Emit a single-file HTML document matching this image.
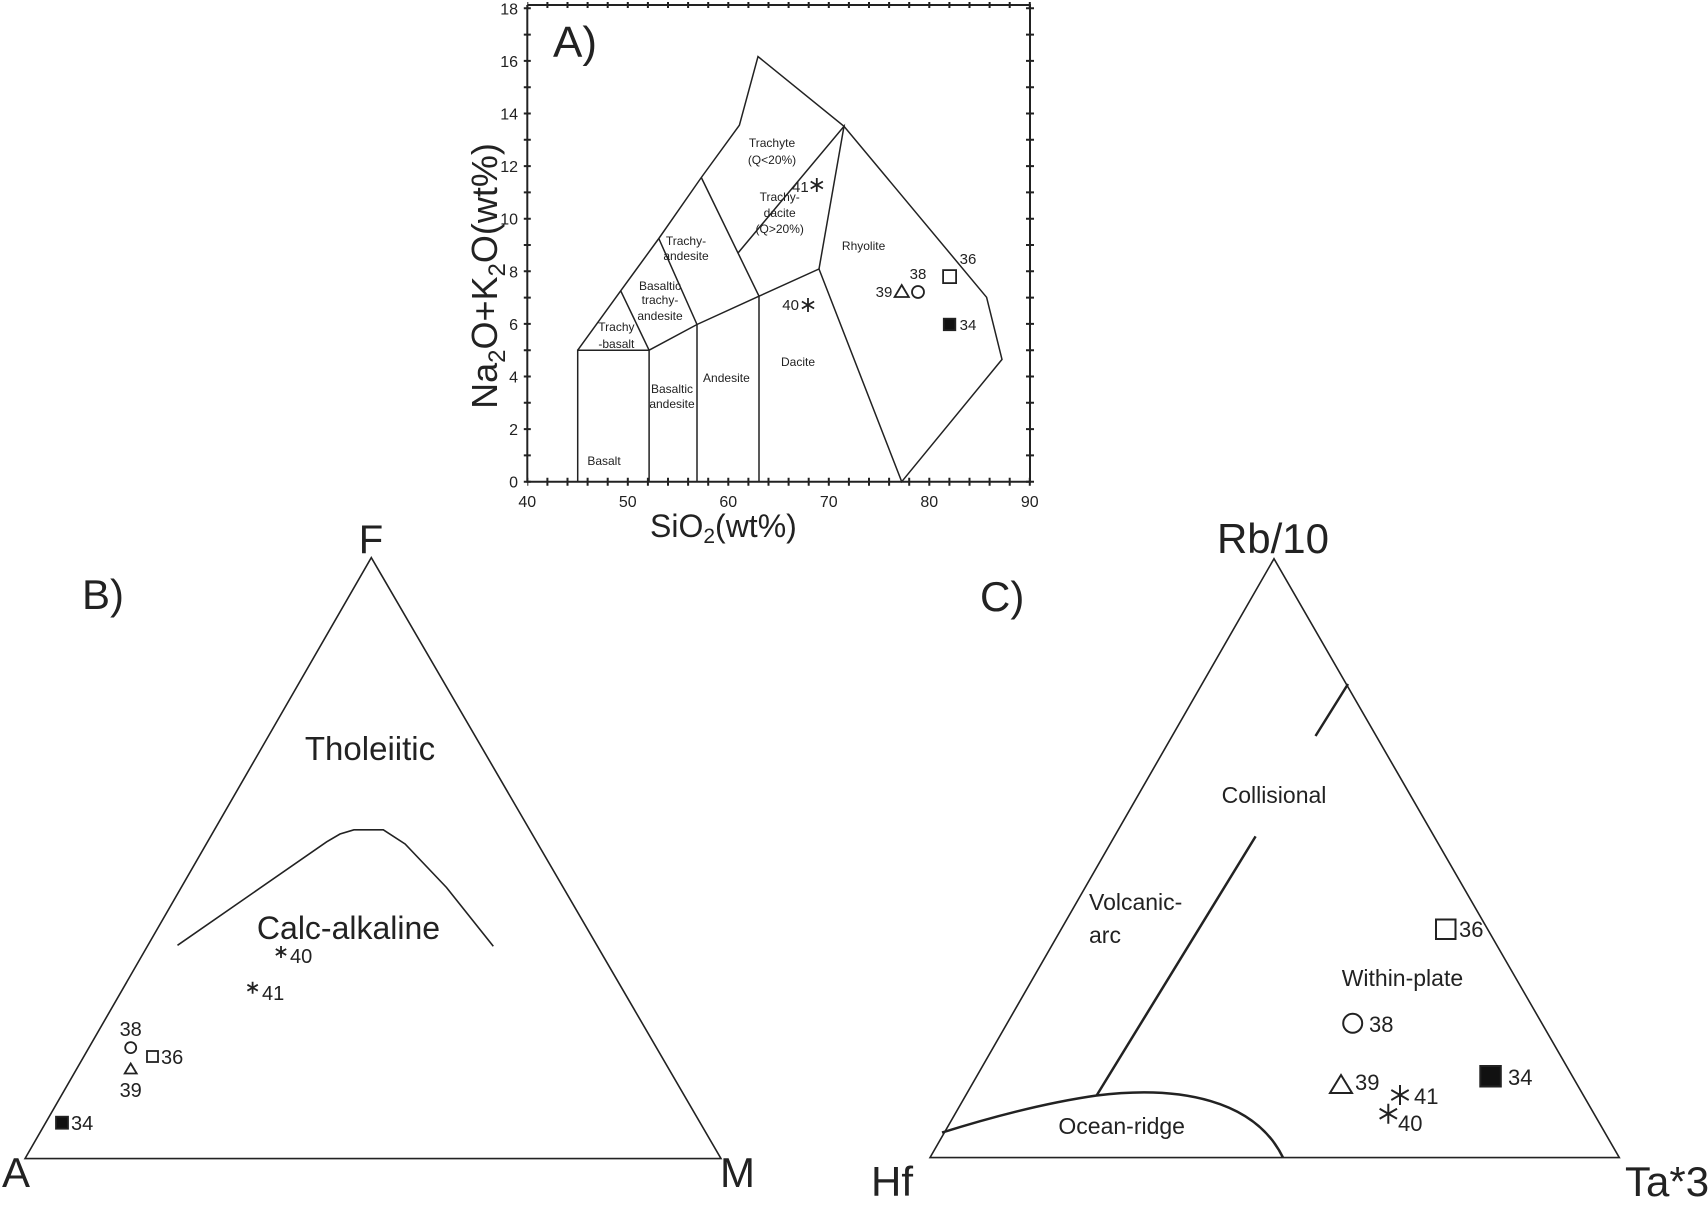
<!DOCTYPE html>
<html><head><meta charset="utf-8"><style>
html,body{margin:0;padding:0;background:#fff;}
svg{display:block;}
text{font-family:"Liberation Sans",sans-serif;fill:#222;}
</style></head><body>
<svg width="1708" height="1208" viewBox="0 0 1708 1208" xmlns="http://www.w3.org/2000/svg">
<g fill="none" stroke="#222">
<path d="M527.3,5 V481.7 H1030 V5 H527.3" stroke-width="2"/>
<line x1="527.3" y1="481.7" x2="1031" y2="481.7" stroke-width="8" stroke-dasharray="2 18.1" stroke-dashoffset="1"/>
<line x1="527.3" y1="5" x2="1031" y2="5" stroke-width="6" stroke-dasharray="2 18.1" stroke-dashoffset="1"/>
<line x1="527.3" y1="482.7" x2="527.3" y2="0" stroke-width="7" stroke-dasharray="2 24.3" stroke-dashoffset="0"/>
<line x1="1030" y1="482.7" x2="1030" y2="0" stroke-width="8" stroke-dasharray="2 24.3" stroke-dashoffset="0"/>
<g stroke-width="1.5">
<path d="M577.7,481.7 V350.2 H649.1 V481.7"/>
<path d="M577.7,350.2 L620.7,290.8 L658.8,238.5 L701.3,177.5 L739.4,125.2 L758,56.6 L844,126.3 L986.6,297.3 L1002,359.4 L901.7,481.7 L819,269 L759,296.2 L697,324.5 L649.1,350.2"/>
<path d="M620.7,290.8 L649.1,350.2"/>
<path d="M658.8,238.5 L697,324.5 V481.7"/>
<path d="M701.3,177.5 L759,296.2 V481.7"/>
<path d="M738.3,252.6 L844,126.3 L819,269"/>
</g>
</g>
<g font-size="15" text-anchor="middle" fill="#333">
<text x="518" y="487.7" text-anchor="end" font-size="16">0</text>
<text x="518" y="435.1" text-anchor="end" font-size="16">2</text>
<text x="518" y="382.5" text-anchor="end" font-size="16">4</text>
<text x="518" y="329.9" text-anchor="end" font-size="16">6</text>
<text x="518" y="277.3" text-anchor="end" font-size="16">8</text>
<text x="518" y="224.7" text-anchor="end" font-size="16">10</text>
<text x="518" y="172.1" text-anchor="end" font-size="16">12</text>
<text x="518" y="119.5" text-anchor="end" font-size="16">14</text>
<text x="518" y="66.9" text-anchor="end" font-size="16">16</text>
<text x="518" y="14.3" text-anchor="end" font-size="16">18</text>
<text x="527.3" y="507" font-size="16">40</text>
<text x="627.8" y="507" font-size="16">50</text>
<text x="728.3" y="507" font-size="16">60</text>
<text x="828.8" y="507" font-size="16">70</text>
<text x="929.3" y="507" font-size="16">80</text>
<text x="1029.8" y="507" font-size="16">90</text>
<g font-size="12">
<text x="772" y="147">Trachyte</text>
<text x="772" y="164">(Q&lt;20%)</text>
<text x="779.7" y="201">Trachy-</text>
<text x="779.7" y="217">dacite</text>
<text x="779.7" y="233">(Q&gt;20%)</text>
<text x="863.6" y="250">Rhyolite</text>
<text x="686" y="245">Trachy-</text>
<text x="686" y="260">andesite</text>
<text x="660" y="290">Basaltic</text>
<text x="660" y="304">trachy-</text>
<text x="660" y="320">andesite</text>
<text x="616.4" y="331">Trachy</text>
<text x="616.4" y="348">-basalt</text>
<text x="672" y="393">Basaltic</text>
<text x="672" y="408">andesite</text>
<text x="726.4" y="382">Andesite</text>
<text x="798" y="366">Dacite</text>
<text x="604" y="465">Basalt</text>
</g>
<g font-size="15">
<text x="800.4" y="192">41</text>
<text x="790.6" y="310">40</text>
<text x="918" y="279">38</text>
<text x="884" y="297">39</text>
<text x="968" y="264">36</text>
<text x="968" y="330">34</text>
</g>
</g>
<text x="553" y="57" font-size="44">A)</text>
<text x="497" y="276" font-size="36" text-anchor="middle" transform="rotate(-90 497 276)">Na<tspan font-size="24" dy="8">2</tspan><tspan dy="-8">O+K</tspan><tspan font-size="24" dy="8">2</tspan><tspan dy="-8">O(wt%)</tspan></text>
<text x="650" y="537" font-size="32">SiO<tspan font-size="21" dy="6">2</tspan><tspan dy="-6">(wt%)</tspan></text>
<g stroke="#222" stroke-width="1.8" fill="none">
<path d="M816.8,178 V192 M810.7,181.5 L822.9,188.5 M810.7,188.5 L822.9,181.5"/>
<path d="M808,298 V312 M801.9,301.5 L814.1,308.5 M801.9,308.5 L814.1,301.5"/>
<circle cx="918" cy="292" r="6"/>
<path d="M901.7,285 L908.8,297 H894.6 Z"/>
<rect x="943.1" y="270.1" width="13" height="13"/>
<rect x="943.8" y="318.7" width="11.5" height="11.5" fill="#111"/>
</g>

<g fill="none" stroke="#222" stroke-width="1.6">
<path d="M25,1158.6 L371.3,557.6 L721,1158.6 Z"/>
<path d="M177.5,945.3 L326.7,841.8 L340,834 L353.9,829.8 H383.3 L405.1,844 L446.5,887.5 L493.3,946.3"/>
</g>
<text x="371" y="553" font-size="40" text-anchor="middle">F</text>
<text x="2" y="1187" font-size="42">A</text>
<text x="720" y="1187" font-size="42">M</text>
<text x="82" y="609" font-size="42">B)</text>
<text x="370" y="760" font-size="33" text-anchor="middle">Tholeiitic</text>
<text x="348.5" y="939" font-size="32" text-anchor="middle">Calc-alkaline</text>
<g stroke="#222" stroke-width="1.8" fill="none">
<path d="M281,946 V958 M275.8,949 L286.2,955 M275.8,955 L286.2,949"/>
<path d="M252.6,981.7 V993.7 M247.4,984.7 L257.8,990.7 M247.4,990.7 L257.8,984.7"/>
<circle cx="130.7" cy="1047.6" r="5.5"/>
<rect x="147" y="1051" width="11" height="11"/>
<path d="M130.7,1063.5 L136.7,1073.5 H124.7 Z"/>
<rect x="56" y="1116.7" width="12" height="12" fill="#111"/>
</g>
<g font-size="20">
<text x="290" y="963">40</text>
<text x="262" y="1000">41</text>
<text x="130.7" y="1036" text-anchor="middle">38</text>
<text x="161" y="1064">36</text>
<text x="130.7" y="1097" text-anchor="middle">39</text>
<text x="71" y="1130">34</text>
</g>

<g fill="none" stroke="#222">
<path d="M930,1157.6 L1274,558.7 L1619.3,1157.6 Z" stroke-width="1.6"/>
<path d="M1348,684 L1315.5,736" stroke-width="2.5"/>
<path d="M1255.6,836.4 L1096.6,1095.5" stroke-width="2.5"/>
<path d="M942,1132.6 Q1030,1105 1096.6,1095.5 C1180,1085 1255,1100 1283,1157.6" stroke-width="2.5"/>
</g>
<text x="1273" y="553" font-size="42" text-anchor="middle">Rb/10</text>
<text x="871" y="1196" font-size="42">Hf</text>
<text x="1625" y="1196" font-size="42">Ta*3</text>
<text x="980" y="611" font-size="42">C)</text>
<g font-size="23">
<text x="1274" y="803" text-anchor="middle">Collisional</text>
<text x="1089" y="910">Volcanic-</text>
<text x="1089" y="943">arc</text>
<text x="1341.7" y="986">Within-plate</text>
<text x="1121.7" y="1134" text-anchor="middle">Ocean-ridge</text>
</g>
<g stroke="#222" stroke-width="2" fill="none">
<rect x="1436" y="919.5" width="19.5" height="19.5"/>
<circle cx="1352.7" cy="1023.3" r="9.5"/>
<path d="M1341,1075 L1352,1093 H1330 Z"/>
<rect x="1480.3" y="1066" width="20.5" height="20.5" fill="#111"/>
<path d="M1400,1085 V1105 M1391.3,1090 L1408.7,1100 M1391.3,1100 L1408.7,1090"/>
<path d="M1388.3,1103.7 V1123.7 M1379.6,1108.7 L1397,1118.7 M1379.6,1118.7 L1397,1108.7"/>
</g>
<g font-size="22">
<text x="1459" y="937">36</text>
<text x="1369" y="1032">38</text>
<text x="1355" y="1090">39</text>
<text x="1414" y="1104">41</text>
<text x="1398" y="1131">40</text>
<text x="1508" y="1085">34</text>
</g>
</svg>
</body></html>
